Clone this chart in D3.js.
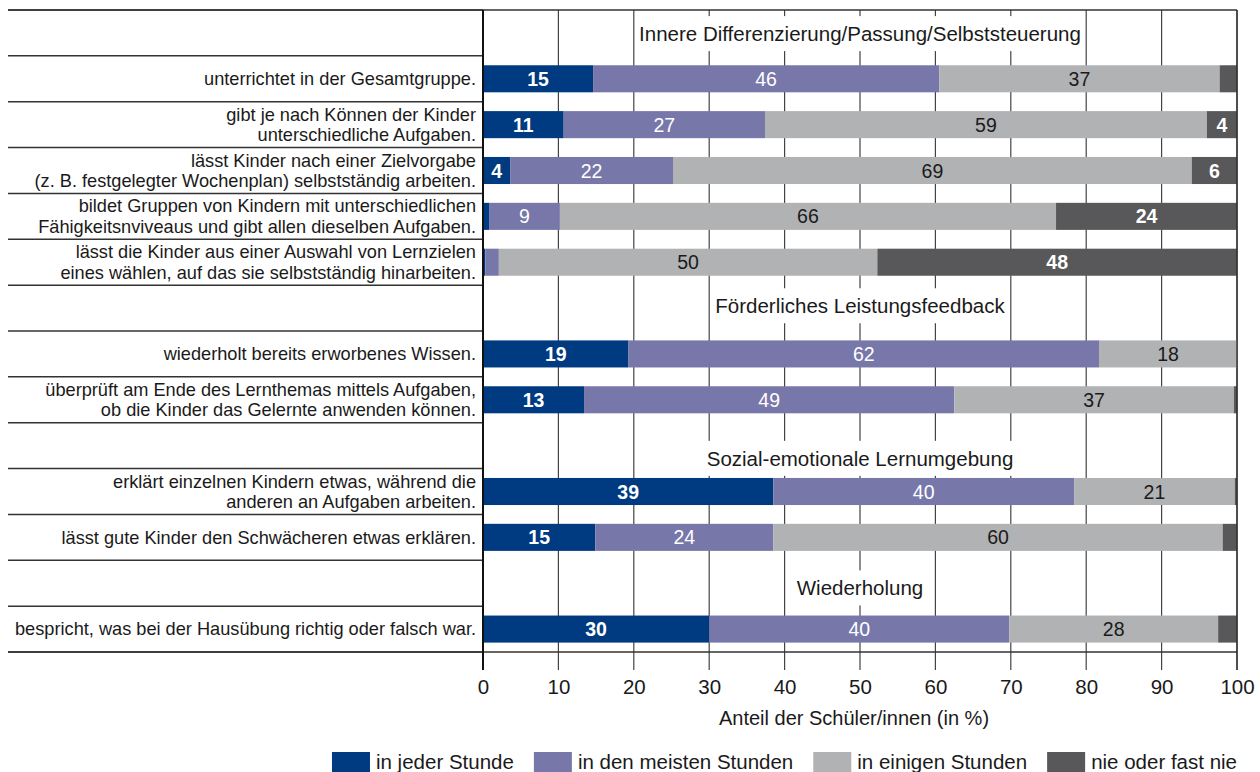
<!DOCTYPE html>
<html>
<head>
<meta charset="utf-8">
<script src="https://cdn.jsdelivr.net/npm/d3@7"></script>
<style>
  html, body { margin: 0; padding: 0; background: #fff; }
  svg { display: block; font-family: "Liberation Sans", Arial, sans-serif; }
</style>
</head>
<body>
<svg id="chart" width="1260" height="772"></svg>
<script>
// ---------------- DATA ----------------
const groups = [
  "Innere Differenzierung/Passung/Selbststeuerung",
  "Förderliches Leistungsfeedback",
  "Sozial-emotionale Lernumgebung",
  "Wiederholung"
];
const groupOf = [0, 0, 0, 0, 0, 1, 1, 2, 2, 3];
const categories = [
  "unterrichtet in der Gesamtgruppe.",
  "gibt je nach Können der Kinder|unterschiedliche Aufgaben.",
  "lässt Kinder nach einer Zielvorgabe|(z. B. festgelegter Wochenplan) selbstständig arbeiten.",
  "bildet Gruppen von Kindern mit unterschiedlichen|Fähigkeitsnviveaus und gibt allen dieselben Aufgaben.",
  "lässt die Kinder aus einer Auswahl von Lernzielen|eines wählen, auf das sie selbstständig hinarbeiten.",
  "wiederholt bereits erworbenes Wissen.",
  "überprüft am Ende des Lernthemas mittels Aufgaben,|ob die Kinder das Gelernte anwenden können.",
  "erklärt einzelnen Kindern etwas, während die|anderen an Aufgaben arbeiten.",
  "lässt gute Kinder den Schwächeren etwas erklären.",
  "bespricht, was bei der Hausübung richtig oder falsch war."
];
const seriesNames = ["in jeder Stunde", "in den meisten Stunden", "in einigen Stunden", "nie oder fast nie"];
const jederStunde    = [14.6, 10.7,  3.6,  0.8,  0.3, 19.3, 13.4, 38.5, 14.9, 30.0];
const meistenStunden = [45.9, 26.7, 21.6,  9.4,  1.8, 62.4, 49.1, 39.9, 23.6, 39.8];
const einigenStunden = [37.2, 58.6, 68.8, 65.8, 50.2, 18.3, 37.1, 21.3, 59.6, 27.7];
const nieOderFastNie = [ 2.3,  4.0,  6.0, 24.0, 47.7,  0.0,  0.4,  0.3,  1.9,  2.5];
const xTicks = [0, 10, 20, 30, 40, 50, 60, 70, 80, 90, 100];
const xTitle = "Anteil der Schüler/innen (in %)";

// ---------------- STYLE ----------------
const colors = ["#003a80", "#7877aa", "#b1b2b4", "#58585a"];
const labelFill = ["#fff", "#fff", "#1a1a1a", "#fff"];
const labelWeight = ["bold", "normal", "normal", "bold"];
const headerShift = [1, -2, 13, 5];

// ---------------- LAYOUT ----------------
const pL = 483, pR = 1237, pT = 10, pB = 652, frameLeft = 8;
const svg = d3.select("#chart");

const rows = [];
groups.forEach((g, gi) => {
  rows.push({ type: "header", id: "h" + gi, gi: gi, label: g });
  categories.forEach((c, ci) => {
    if (groupOf[ci] === gi) rows.push({ type: "item", id: "c" + ci, idx: ci, label: c });
  });
});

const x = d3.scaleLinear().domain([0, 100]).range([pL, pR]);
const y = d3.scaleBand().domain(rows.map(r => r.id)).range([pT, pB])
  .paddingInner(0.41).paddingOuter(0.205);
const step = y.step();
const rowCenter = id => y(id) + y.bandwidth() / 2;

const table = categories.map((c, i) => ({
  id: "c" + i,
  s0: jederStunde[i], s1: meistenStunden[i], s2: einigenStunden[i], s3: nieOderFastNie[i]
}));
const stacked = d3.stack().keys(["s0", "s1", "s2", "s3"])(table);

// ---------------- GRID ----------------
svg.append("g").selectAll("line").data(xTicks).join("line")
  .attr("x1", d => x(d)).attr("x2", d => x(d))
  .attr("y1", pT).attr("y2", pB + 18)
  .attr("stroke", "#444")
  .attr("stroke-width", 1.2);

const boundaries = d3.range(rows.length + 1).map(k => pT + k * step);
svg.append("g").selectAll("line").data(boundaries).join("line")
  .attr("x1", frameLeft).attr("x2", pL)
  .attr("y1", d => d).attr("y2", d => d)
  .attr("stroke", "#333").attr("stroke-width", 1.5);

svg.append("line").attr("x1", frameLeft).attr("x2", pR).attr("y1", pT).attr("y2", pT)
  .attr("stroke", "#333").attr("stroke-width", 1.5);
svg.append("line").attr("x1", frameLeft).attr("x2", pR).attr("y1", pB).attr("y2", pB)
  .attr("stroke", "#333").attr("stroke-width", 1.5);

// ---------------- HEADERS ----------------
const headerRows = rows.filter(r => r.type === "header");
const hg = svg.append("g").selectAll("g").data(headerRows).join("g");
hg.append("text")
  .attr("x", x(50)).attr("y", d => rowCenter(d.id) + headerShift[d.gi])
  .attr("dy", "0.35em").attr("text-anchor", "middle")
  .attr("font-size", 20.5).attr("fill", "#1a1a1a")
  .text(d => d.label);
hg.each(function () {
  const g = d3.select(this);
  const bb = g.select("text").node().getBBox();
  g.insert("rect", "text")
    .attr("x", bb.x - 2).attr("y", bb.y - 6)
    .attr("width", bb.width + 4).attr("height", bb.height + 12)
    .attr("fill", "#fff");
});

// ---------------- BARS ----------------
const barG = svg.append("g");
stacked.forEach((layer, si) => {
  barG.append("g").attr("fill", colors[si])
    .selectAll("rect").data(layer).join("rect")
    .attr("x", d => x(d[0]))
    .attr("width", d => x(d[1]) - x(d[0]))
    .attr("y", d => y(d.data.id))
    .attr("height", y.bandwidth());
});
stacked.forEach((layer, si) => {
  barG.append("g").selectAll("text")
    .data(layer.filter(d => d[1] - d[0] >= 3.5)).join("text")
    .attr("x", d => (x(d[0]) + x(d[1])) / 2)
    .attr("y", d => rowCenter(d.data.id))
    .attr("dy", "0.36em").attr("text-anchor", "middle")
    .attr("font-size", 19.5).attr("font-weight", labelWeight[si])
    .attr("fill", labelFill[si])
    .text(d => Math.round(d[1] - d[0]));
});

svg.append("line").attr("x1", pL).attr("x2", pL).attr("y1", pT).attr("y2", pB + 18)
  .attr("stroke", "#111").attr("stroke-width", 2);
svg.append("line").attr("x1", pR).attr("x2", pR).attr("y1", pT).attr("y2", pB + 18)
  .attr("stroke", "#222").attr("stroke-width", 1.2);

// ---------------- ROW LABELS ----------------
const itemRows = rows.filter(r => r.type === "item");
const lg = svg.append("g").selectAll("text").data(itemRows).join("text")
  .attr("text-anchor", "end").attr("font-size", 18.2).attr("fill", "#1a1a1a");
lg.each(function (d) {
  const lines = d.label.split("|");
  const t = d3.select(this);
  const cy = rowCenter(d.id);
  const lh = 20.5;
  lines.forEach((ln, i) => {
    t.append("tspan").attr("x", 476)
      .attr("y", cy + (i - (lines.length - 1) / 2) * lh)
      .attr("dy", "0.35em").text(ln);
  });
});

// ---------------- X AXIS ----------------
const axisG = svg.append("g").attr("transform", `translate(0,${pB})`)
  .call(d3.axisBottom(x).tickValues(xTicks).tickSize(0).tickPadding(0));
axisG.select(".domain").remove();
axisG.selectAll("text").attr("y", 42).attr("dy", 0)
  .attr("font-size", 20.5).attr("fill", "#1a1a1a")
  .attr("font-family", "'Liberation Sans', Arial, sans-serif");

svg.append("text").attr("x", x(50) - 6).attr("y", 725)
  .attr("text-anchor", "middle").attr("font-size", 20).attr("fill", "#1a1a1a")
  .text(xTitle);

// ---------------- LEGEND ----------------
const items = svg.append("g").selectAll("g").data(seriesNames).join("g");
items.append("rect").attr("width", 38).attr("height", 20).attr("y", 752)
  .attr("fill", (d, i) => colors[i]);
items.append("text").attr("x", 44).attr("y", 769)
  .attr("font-size", 20.5).attr("fill", "#1a1a1a").text(d => d);
const widths = [];
items.each(function () { widths.push(this.getBBox().width); });
const gap = 20;
let cursor = pR - (d3.sum(widths) + gap * (widths.length - 1));
items.each(function (d, i) {
  d3.select(this).attr("transform", `translate(${cursor},0)`);
  cursor += widths[i] + gap;
});
</script>
</body>
</html>
